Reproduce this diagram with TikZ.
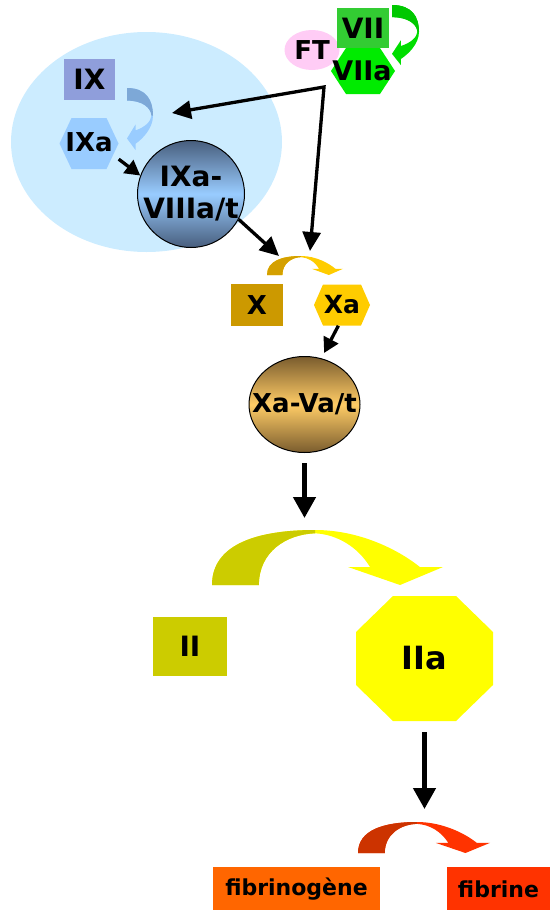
\documentclass[tikz,border=0pt]{standalone}
\usepackage{fontspec}
\setmainfont{DejaVu Sans}
\usetikzlibrary{shapes.geometric,arrows.meta,calc}
\definecolor{cellbg}{RGB}{204,236,255}
\definecolor{ixbox}{RGB}{143,158,219}
\definecolor{ixahex}{RGB}{153,204,255}
\definecolor{ixarrD}{RGB}{125,168,215}
\definecolor{ixarrL}{RGB}{153,204,255}
\definecolor{slate}{RGB}{72,94,125}
\definecolor{ftpink}{RGB}{255,204,245}
\definecolor{viibox}{RGB}{51,204,51}
\definecolor{viiahex}{RGB}{0,235,0}
\definecolor{grnD}{RGB}{0,200,0}
\definecolor{grnL}{RGB}{0,222,0}
\definecolor{goldD}{RGB}{212,160,0}
\definecolor{goldL}{RGB}{255,204,0}
\definecolor{xbox}{RGB}{204,153,0}
\definecolor{xahex}{RGB}{255,204,0}
\definecolor{brownD}{RGB}{122,92,46}
\definecolor{tanL}{RGB}{255,204,102}
\definecolor{olivec}{RGB}{204,204,0}
\definecolor{yel}{RGB}{255,255,0}
\definecolor{redD}{RGB}{204,51,0}
\definecolor{redL}{RGB}{255,51,0}
\definecolor{fibgen}{RGB}{255,102,0}
\definecolor{fibr}{RGB}{255,51,0}
\newcommand\cvarrow[5]{%
 \begin{scope}[shift={#1},x={#2},y={#3}]
  \fill[#5] (0,0) .. controls (0,0.75) and (0.2,1) .. (0.446,1)
    .. controls (0.65,1) and (0.82,0.6) .. (0.9,0.327) -- (1,0.327) -- (0.814,0)
    -- (0.589,0.327) -- (0.684,0.327) .. controls (0.63,0.7) and (0.54,0.92) .. (0.446,0.94)
    .. controls (0.32,0.92) and (0.203,0.6) .. (0.203,0) -- cycle;
  \fill[#4] (0,0) .. controls (0,0.75) and (0.2,1) .. (0.446,1) -- (0.446,0.94)
    .. controls (0.32,0.92) and (0.203,0.6) .. (0.203,0) -- cycle;
 \end{scope}}
\newcommand\hexfill[6]{%
 \fill[#6] (#1-#3,#2) -- (#1-#3+#5,#2-#4) -- (#1+#3-#5,#2-#4) -- (#1+#3,#2)
   -- (#1+#3-#5,#2+#4) -- (#1-#3+#5,#2+#4) -- cycle;}
\tikzset{
 lbl/.style={font=\bfseries\fontsize{26}{30}\selectfont, inner sep=0pt, text=black},
 arr/.style={line width=3.3pt, -{Triangle[length=19pt,width=18pt]}},
 sarr/.style={line width=3.3pt, -{Triangle[length=15pt,width=16pt]}},
 bigarr/.style={line width=4.5pt, -{Triangle[length=21pt,width=22pt]}}
}
\begin{document}
\begin{tikzpicture}[x=1pt,y=-1pt]
\useasboundingbox (0,0) rectangle (549,910);
% cell
\node[ellipse, fill=cellbg, minimum width=271pt, minimum height=220pt, inner sep=0pt] (cell) at (146.5,142) {};
% IX
\node[lbl, fill=ixbox, minimum width=51pt, minimum height=41pt, font=\bfseries\fontsize{28}{30}\selectfont] (ix) at (89.5,79.5) {IX};
\cvarrow{(127,88)}{(0pt,-62pt)}{(26pt,0pt)}{ixarrD}{ixarrL}
\hexfill{89}{143.5}{29.5}{25.5}{12}{ixahex}
\node[lbl, minimum width=59pt, minimum height=51pt] (ixa) at (89,142) {IXa};
% tenase
\node[lbl, circle, draw=black, line width=1pt, minimum size=107pt, inner sep=-4pt, top color=slate, bottom color=slate, middle color=ixahex, align=center, font=\bfseries\fontsize{28}{32}\selectfont] (cx) at (191,194) {IXa-\\VIIIa/t};
% FT / VII
\node[lbl, ellipse, fill=ftpink, minimum width=55pt, minimum height=40pt, font=\bfseries\fontsize{26}{28}\selectfont] (ft) at (312,50) {FT};
\node[lbl, fill=viibox, minimum width=52pt, minimum height=40pt, font=\bfseries\fontsize{28}{30}\selectfont] (vii) at (363,28) {VII};
\hexfill{363}{71}{32}{23}{15}{viiahex}
\node[lbl, minimum width=64pt, minimum height=46pt, font=\bfseries\fontsize{27}{30}\selectfont] (viia) at (362,71) {VIIa};
\cvarrow{(392,5)}{(0pt,-60pt)}{(27pt,0pt)}{grnD}{grnL}
% black arrows from VIIa-FT
\coordinate (J) at (324,87);
\coordinate (tipL) at (172,113);
\coordinate (tipD) at (310,251);
\draw[line width=3.3pt, line join=miter, {Triangle[length=19pt,width=18pt]}-{Triangle[length=19pt,width=18pt]}] (tipL) -- (J) -- (tipD);
\draw[sarr] (ixa.-30) -- (cx.160);
\coordinate (tipC) at (279,256);
\draw[arr] (cx.-28) -- (tipC);
% X
\cvarrow{(267,275)}{(76pt,0pt)}{(0pt,19pt)}{goldD}{goldL}
\node[lbl, fill=xbox, minimum width=52pt, minimum height=42pt] (x) at (257,305) {X};
\hexfill{342}{305}{28}{20.5}{9}{xahex}
\node[lbl, minimum width=56pt, minimum height=41pt, font=\bfseries\fontsize{25}{28}\selectfont] (xa) at (342,305) {Xa};
\node[lbl, ellipse, draw=black, line width=1pt, minimum width=111pt, minimum height=96pt, inner xsep=-16pt, top color=brownD, bottom color=brownD, middle color=tanL] (xava) at (304.5,404.5) {Xa-Va/t};
\draw[sarr, shorten >=6pt] (xa.-100) -- (xava.70);
\coordinate (tipY) at (304.5,518);
\draw[bigarr, shorten <=10pt] (xava) -- (tipY);
% II
\cvarrow{(212,585)}{(231pt,0pt)}{(0pt,55pt)}{olivec}{yel}
\node[lbl, fill=olivec, minimum width=74pt, minimum height=59pt, font=\bfseries\fontsize{28}{30}\selectfont] (ii) at (190,646.5) {II};
\fill[yel] (356,632) -- (393,596) -- (456,596) -- (493,632) -- (493,685) -- (456,721) -- (393,721) -- (356,685) -- cycle;
\node[lbl, minimum width=137pt, minimum height=125pt, font=\bfseries\fontsize{32}{34}\selectfont] (iia) at (424.5,658.5) {IIa};
\coordinate (tipR) at (424.5,809);
\draw[bigarr, shorten <=11pt] (iia) -- (tipR);
% fibrin
\cvarrow{(358,853)}{(132pt,0pt)}{(0pt,31pt)}{redD}{redL}
\node[lbl, fill=fibgen, minimum width=167pt, minimum height=45pt, font=\bfseries\fontsize{22}{26}\selectfont] (fgen) at (296.5,889.5) {fibrinogène};
\node[lbl, fill=fibr, minimum width=104pt, minimum height=45pt, font=\bfseries\fontsize{22}{26}\selectfont] (fib) at (498.5,889.5) {fibrine};
\end{tikzpicture}
\end{document}
